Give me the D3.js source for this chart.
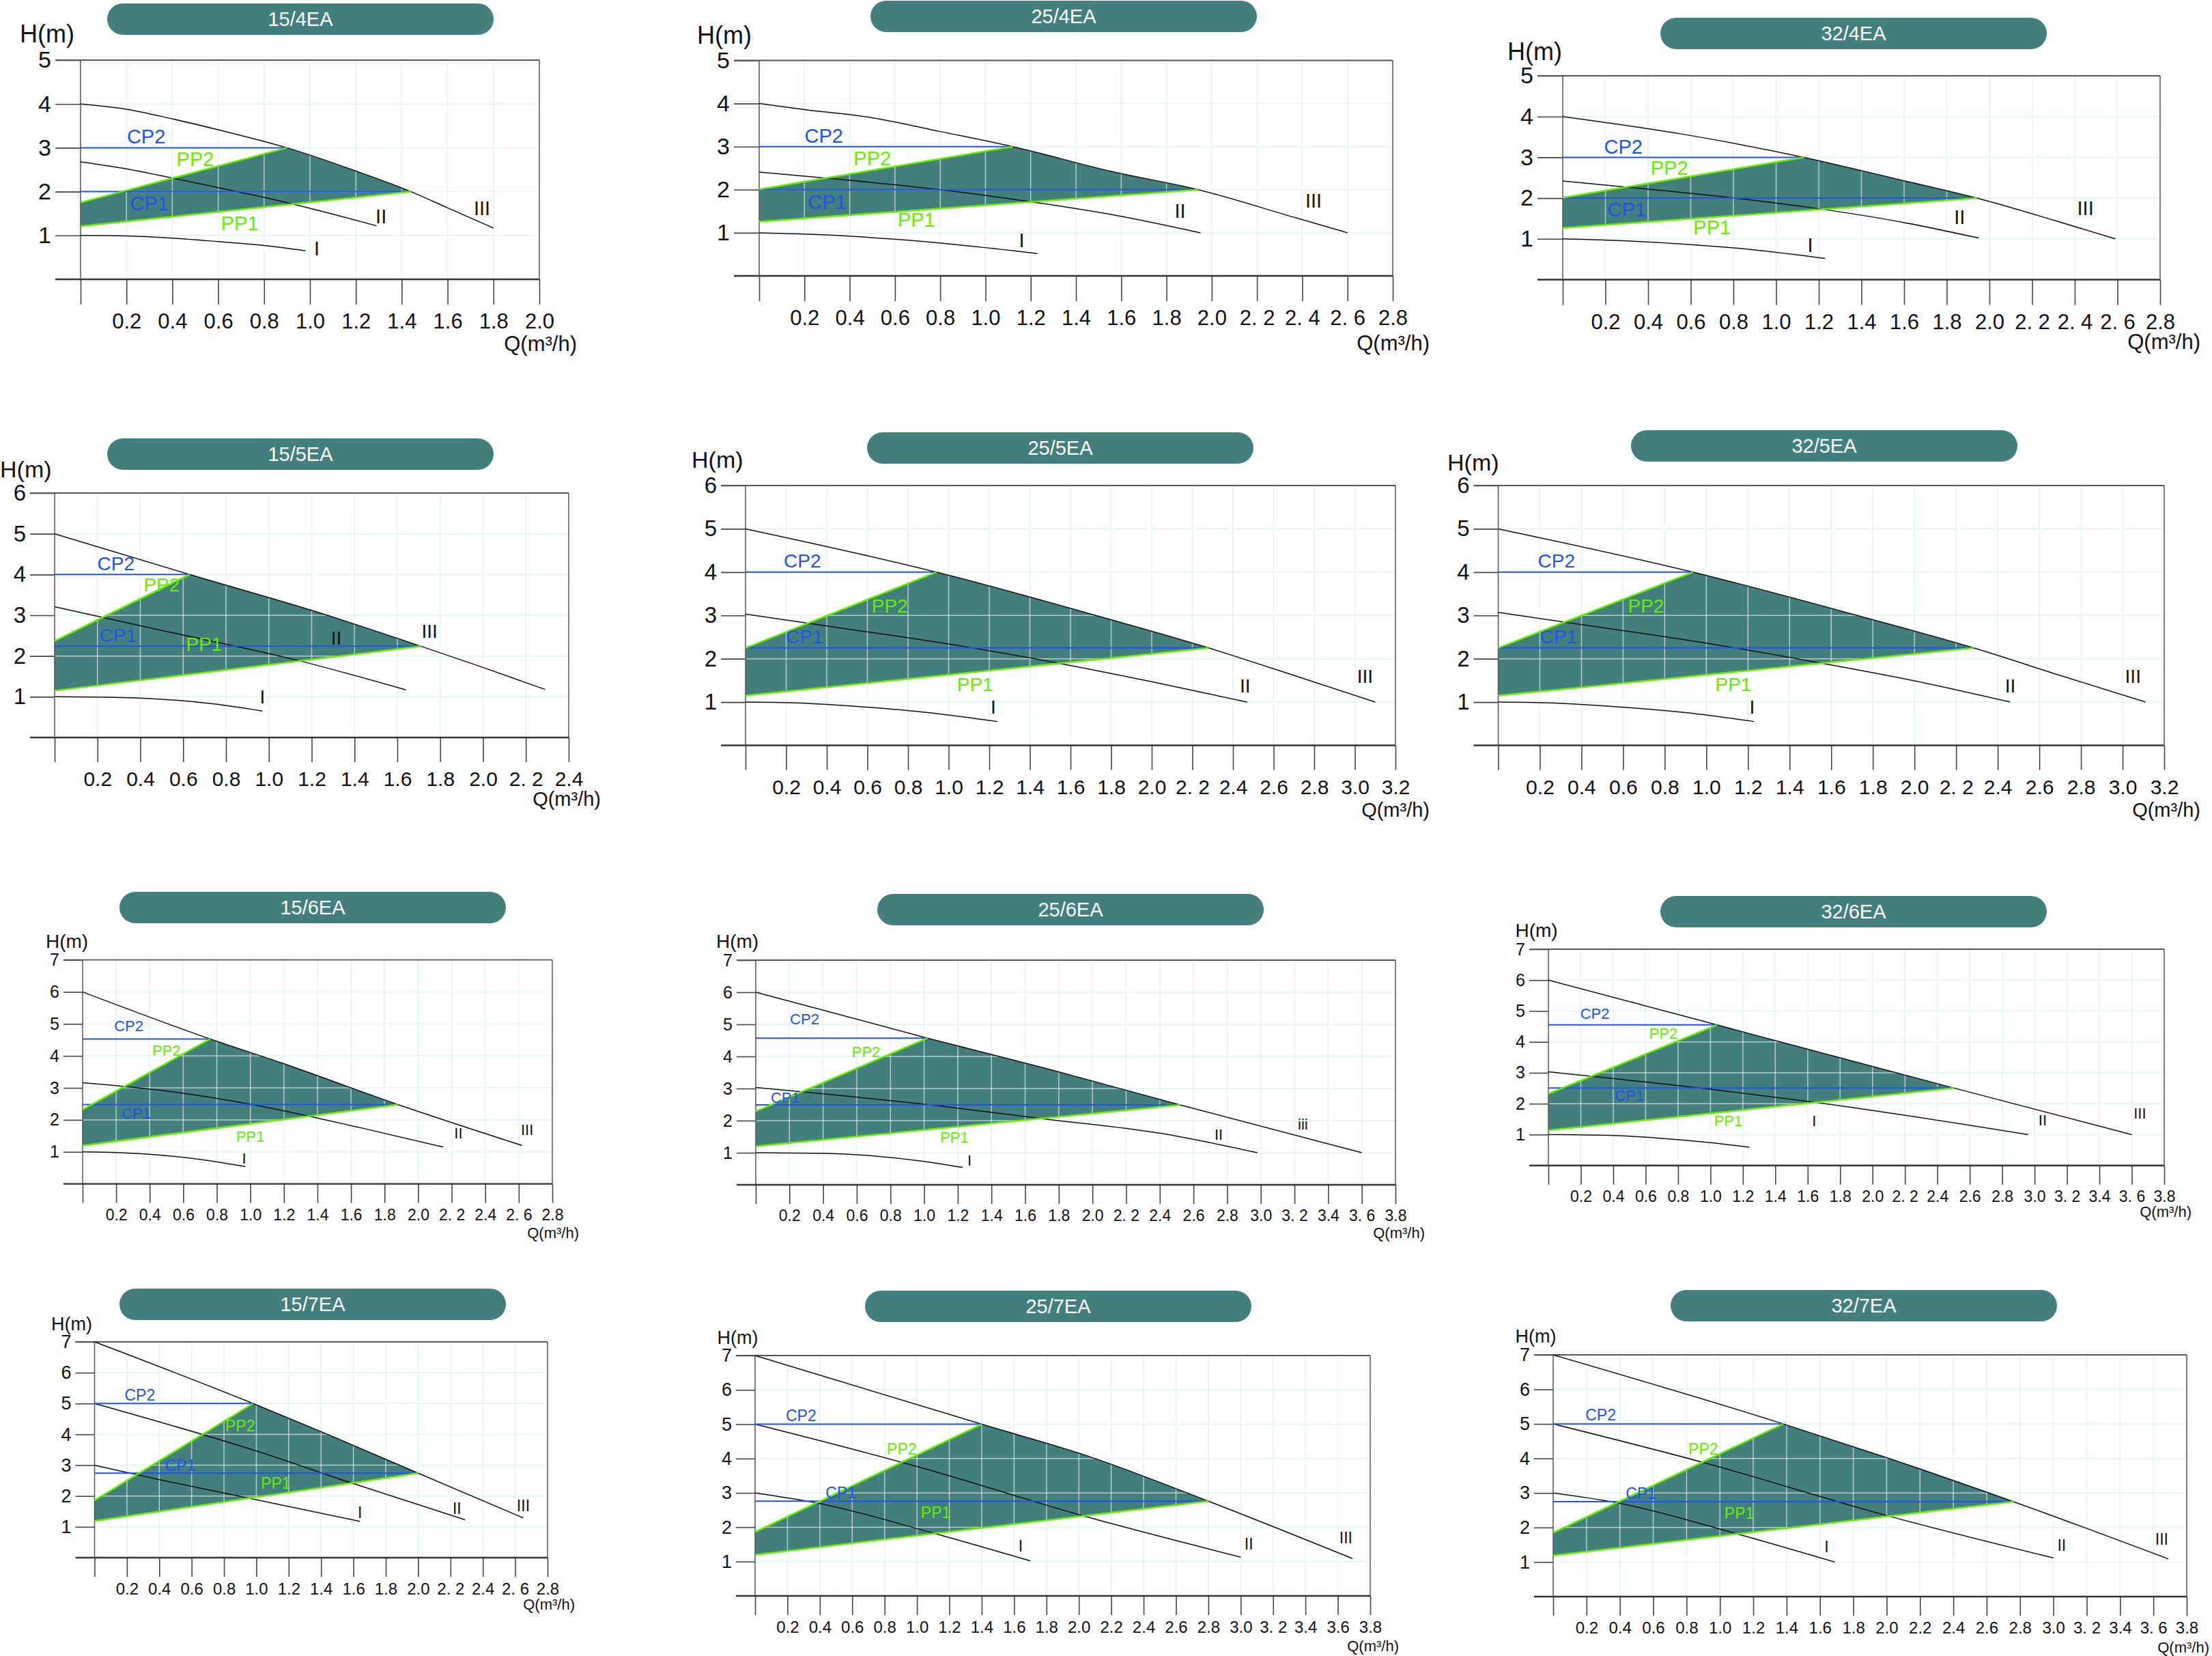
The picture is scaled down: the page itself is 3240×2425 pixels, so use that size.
<!DOCTYPE html>
<html><head><meta charset="utf-8">
<script src="https://cdn.jsdelivr.net/npm/d3@7"></script>
<style>
body{margin:0;background:#fff}
svg{display:block}
text{font-family:"Liberation Sans",Arial,sans-serif}
</style>
</head><body>
<svg id="c" width="3240" height="2425"></svg>
<script>
// ---------------- DATA ----------------
const models = ["15/4EA","25/4EA","32/4EA","15/5EA","25/5EA","32/5EA","15/6EA","25/6EA","32/6EA","15/7EA","25/7EA","32/7EA"];
const xMax = [2.0,2.8,2.8,2.4,3.2,3.2,2.8,3.8,3.8,2.8,3.8,3.8];
const yMax = [5,5,5,6,6,6,7,7,7,7,7,7];

const curveIII = [
  [[0,4.0],[0.2,3.88],[0.4,3.66],[0.6,3.41],[0.9,3.0],[1.2,2.47],[1.44,2.0],[1.6,1.63],[1.8,1.17]],
  [[0,4.0],[0.2,3.86],[0.5,3.67],[0.8,3.35],[1.12,3.0],[1.56,2.42],[1.94,2.0],[2.37,1.35],[2.6,1.0]],
  [[0,4.0],[0.56,3.57],[1.13,3.0],[1.58,2.45],[1.94,2.0],[2.3,1.46],[2.59,1.0]],
  [[0,5.0],[0.63,4.0],[1.2,3.12],[1.71,2.24],[2.0,1.72],[2.29,1.18]],
  [[0,5.0],[0.94,4.0],[1.74,2.98],[2.28,2.25],[2.71,1.6],[3.1,1.0]],
  [[0,5.0],[0.935,4.0],[1.74,2.98],[2.284,2.25],[2.71,1.6],[3.11,1.0]],
  [[0,6.0],[0.76,4.53],[1.18,3.79],[1.88,2.48],[2.62,1.2]],
  [[0,6.0],[1.02,4.57],[1.7,3.66],[2.52,2.49],[3.6,1.0]],
  [[0,6.0],[1.04,4.55],[1.61,3.75],[2.5,2.51],[3.6,1.0]],
  [[0,7.0],[0.98,5.0],[1.4,4.09],[2.0,2.74],[2.65,1.29]],
  [[0,7.0],[1.4,5.0],[2.07,4.05],[2.8,2.76],[3.69,1.09]],
  [[0,7.0],[1.38,5.0],[1.99,4.04],[2.76,2.75],[3.69,1.09]]
];
const curveII = [
  [[0,2.68],[0.2,2.52],[0.4,2.31],[0.6,2.09],[0.8,1.87],[1.0,1.62],[1.29,1.22]],
  [[0,2.41],[0.4,2.22],[0.8,2.0],[1.2,1.72],[1.57,1.41],[1.95,1.0]],
  [[0,2.42],[0.4,2.22],[0.79,2.01],[1.2,1.74],[1.6,1.4],[1.95,1.02]],
  [[0,3.21],[0.49,2.64],[1.13,1.9],[1.64,1.17]],
  [[0,3.03],[0.5,2.69],[1.0,2.34],[1.55,1.89],[2.0,1.47],[2.47,1.0]],
  [[0,3.07],[0.5,2.72],[1.0,2.36],[1.55,1.9],[2.0,1.49],[2.46,1.0]],
  [[0,3.16],[0.5,2.9],[1.0,2.49],[1.66,1.75],[2.15,1.15]],
  [[0,3.03],[1.0,2.51],[1.7,2.06],[2.41,1.6],[2.98,1.0]],
  [[0,3.03],[1.0,2.47],[1.64,2.05],[2.96,1.0]],
  [[0,5.0],[1.0,3.46],[1.59,2.42],[2.29,1.23]],
  [[0,5.0],[1.03,3.73],[2.02,2.34],[3.0,1.13]],
  [[0,5.0],[0.91,3.87],[1.99,2.36],[3.0,1.12]]
];
const curveI = [
  [[0,1.0],[0.2,0.99],[0.4,0.94],[0.6,0.86],[0.8,0.77],[0.98,0.65]],
  [[0,1.0],[0.3,0.95],[0.6,0.85],[0.9,0.71],[1.23,0.52]],
  [[0,1.0],[0.3,0.95],[0.6,0.86],[0.9,0.73],[1.23,0.52]],
  [[0,1.0],[0.25,0.99],[0.5,0.94],[0.75,0.82],[0.97,0.65]],
  [[0,1.0],[0.3,0.97],[0.63,0.87],[0.95,0.73],[1.24,0.55]],
  [[0,1.0],[0.3,0.97],[0.63,0.87],[0.95,0.73],[1.23,0.55]],
  [[0,1.0],[0.2,0.98],[0.46,0.9],[0.75,0.73],[0.97,0.54]],
  [[0,1.0],[0.42,0.98],[0.7,0.9],[1.0,0.73],[1.23,0.54]],
  [[0,1.0],[0.4,0.97],[0.67,0.89],[1.0,0.74],[1.24,0.59]],
  [[0,3.0],[0.41,2.52],[0.9,1.99],[1.64,1.18]],
  [[0,3.0],[0.38,2.71],[1.1,1.83],[1.7,1.02]],
  [[0,3.0],[0.4,2.7],[1.1,1.82],[1.69,1.0]]
];
// constant-pressure lines: end point on curve III [Q, H]
const cp2End = [[0.9,3.0],[1.12,3.0],[1.13,3.0],[0.63,4.0],[0.94,4.0],[0.935,4.0],[0.76,4.53],[1.02,4.57],[1.04,4.55],[0.98,5.0],[1.4,5.0],[1.38,5.0]];
const cp1End = [[1.44,2.0],[1.94,2.0],[1.94,2.0],[1.71,2.24],[2.28,2.25],[2.284,2.25],[1.88,2.48],[2.52,2.49],[2.5,2.51],[2.0,2.74],[2.8,2.76],[2.76,2.75]];
// proportional-pressure lines: head at Q = 0
const pp2Start = [1.75,2.01,2.01,2.37,2.25,2.25,2.32,2.29,2.32,1.86,1.86,1.85];
const pp1Start = [1.21,1.26,1.27,1.15,1.15,1.15,1.2,1.2,1.14,1.19,1.2,1.19];

const xTickLabels = [
  ["0.2","0.4","0.6","0.8","1.0","1.2","1.4","1.6","1.8","2.0"],
  ["0.2","0.4","0.6","0.8","1.0","1.2","1.4","1.6","1.8","2.0","2. 2","2. 4","2. 6","2.8"],
  ["0.2","0.4","0.6","0.8","1.0","1.2","1.4","1.6","1.8","2.0","2. 2","2. 4","2. 6","2.8"],
  ["0.2","0.4","0.6","0.8","1.0","1.2","1.4","1.6","1.8","2.0","2. 2","2.4"],
  ["0.2","0.4","0.6","0.8","1.0","1.2","1.4","1.6","1.8","2.0","2. 2","2.4","2.6","2.8","3.0","3.2"],
  ["0.2","0.4","0.6","0.8","1.0","1.2","1.4","1.6","1.8","2.0","2. 2","2.4","2.6","2.8","3.0","3.2"],
  ["0.2","0.4","0.6","0.8","1.0","1.2","1.4","1.6","1.8","2.0","2. 2","2.4","2. 6","2.8"],
  ["0.2","0.4","0.6","0.8","1.0","1.2","1.4","1.6","1.8","2.0","2. 2","2.4","2.6","2.8","3.0","3. 2","3.4","3. 6","3.8"],
  ["0.2","0.4","0.6","0.8","1.0","1.2","1.4","1.6","1.8","2.0","2. 2","2.4","2.6","2.8","3.0","3. 2","3.4","3. 6","3.8"],
  ["0.2","0.4","0.6","0.8","1.0","1.2","1.4","1.6","1.8","2.0","2. 2","2.4","2. 6","2.8"],
  ["0.2","0.4","0.6","0.8","1.0","1.2","1.4","1.6","1.8","2.0","2.2","2.4","2.6","2.8","3.0","3. 2","3.4","3.6","3.8"],
  ["0.2","0.4","0.6","0.8","1.0","1.2","1.4","1.6","1.8","2.0","2.2","2.4","2.6","2.8","3.0","3. 2","3.4","3. 6","3.8"]
];
const numerals = [
  ["I","II","III"],["I","II","III"],["I","II","III"],
  ["I","II","III"],["I","II","III"],["I","II","III"],
  ["I","II","III"],["I","II","iii"],["I","II","III"],
  ["I","II","III"],["I","II","III"],["I","II","III"]
];
// annotation anchor points in data units [Q, H]
const atCP2 = [[0.286,3.26],[0.286,3.26],[0.284,3.27],[0.286,4.27],[0.28,4.26],[0.28,4.26],[0.275,4.95],[0.29,5.17],[0.287,4.91],[0.28,5.27],[0.284,5.26],[0.285,5.26]];
const atPP2 = [[0.5,2.75],[0.5,2.73],[0.5,2.75],[0.5,3.75],[0.71,3.23],[0.71,3.23],[0.5,4.18],[0.655,4.15],[0.71,4.28],[0.9,4.29],[0.906,4.28],[0.9,4.27]];
const atCP1 = [[0.3,1.73],[0.3,1.72],[0.3,1.72],[0.296,2.51],[0.29,2.51],[0.29,2.51],[0.32,2.2],[0.176,2.73],[0.5,2.26],[0.53,2.99],[0.53,3.0],[0.527,2.99]];
const atPP1 = [[0.694,1.29],[0.695,1.3],[0.7,1.29],[0.698,2.29],[1.13,1.41],[1.13,1.41],[1.0,1.49],[1.18,1.49],[1.11,1.45],[1.12,2.41],[1.116,2.43],[1.116,2.41]];
const atI   = [[1.03,0.71],[1.16,0.835],[1.16,0.86],[0.97,1.0],[1.22,0.89],[1.22,0.89],[0.963,0.81],[1.27,0.755],[1.64,1.46],[1.64,1.47],[1.64,1.46],[1.64,1.45]];
const atII  = [[1.31,1.44],[1.86,1.52],[1.86,1.54],[1.315,2.45],[2.46,1.38],[2.46,1.38],[2.24,1.6],[2.75,1.58],[3.05,1.48],[2.24,1.61],[3.05,1.51],[3.05,1.49]];
const atIII = [[1.75,1.63],[2.45,1.75],[2.45,1.75],[1.75,2.62],[3.05,1.6],[3.05,1.6],[2.65,1.69],[3.25,1.89],[3.65,1.69],[2.65,1.7],[3.65,1.69],[3.65,1.67]];

// ---------------- LAYOUT (pixels) ----------------
const layout = [
  {l:118,r:790,t:88,b:409,px:157,py:5,hx:29,hy:62,qr:845,qy:514},
  {l:1112,r:2040,t:88.5,b:404,px:1275,py:1,hx:1021,hy:64,qr:2094,qy:513},
  {l:2289,r:3164,t:111,b:409.5,px:2432,py:26,hx:2208,hy:88,qr:3223,qy:511},
  {l:80,r:833,t:722,b:1080,px:157,py:642,hx:0,hy:699,qr:880,qy:1180},
  {l:1092,r:2044,t:711,b:1091.5,px:1270,py:633,hx:1013,hy:685,qr:2094,qy:1196},
  {l:2194.5,r:3170,t:711,b:1091.5,px:2389,py:630,hx:2120,hy:689,qr:3223,qy:1196},
  {l:121,r:809,t:1405.7,b:1733.6,px:175,py:1306,hx:67,hy:1388,qr:848,qy:1813},
  {l:1107,r:2044,t:1406,b:1735,px:1285,py:1309,hx:1049,hy:1387.5,qr:2087,qy:1813},
  {l:2268,r:3170,t:1390,b:1706.7,px:2432,py:1312,hx:2219.5,hy:1372,qr:3210,qy:1782},
  {l:138.5,r:802,t:1965,b:2281,px:175,py:1887,hx:75,hy:1948,qr:842,qy:2357},
  {l:1106,r:2007,t:1985,b:2337,px:1267,py:1890,hx:1050.5,hy:1968,qr:2049,qy:2418},
  {l:2275,r:3203,t:1984,b:2338,px:2447,py:1889,hx:2219.5,hy:1966,qr:3236,qy:2420}
];
const rowStyle = [
  {tick:37,pad:13,tickFs:31,yFs:34,labFs:29,hFs:36,qFs:31,titleFs:29},
  {tick:36,pad:14,tickFs:30,yFs:33,labFs:28,hFs:34,qFs:29,titleFs:29},
  {tick:28,pad:9,tickFs:23,yFs:25,labFs:22,hFs:28,qFs:22,titleFs:29},
  {tick:28,pad:9,tickFs:24,yFs:27,labFs:23,hFs:27,qFs:22,titleFs:29}
];
const TEAL = "#437f7c", BLUE = "#2152f0", GREEN = "#66ee00", FAINT = "#e2f5f3";

// ---------------- DRAW ----------------
const svg = d3.select("#c");
const defs = svg.append("defs");

models.forEach((m, i) => {
  const L = layout[i], S = rowStyle[Math.floor(i / 3)];
  const x = d3.scaleLinear().domain([0, xMax[i]]).range([L.l, L.r]);
  const y = d3.scaleLinear().domain([0, yMax[i]]).range([L.b, L.t]);
  const g = svg.append("g");
  const line = d3.line().x(d => x(d[0])).y(d => y(d[1])).curve(d3.curveMonotoneX);

  // title pill
  g.append("rect").attr("x", L.px).attr("y", L.py).attr("width", 566).attr("height", 46)
    .attr("rx", 23).attr("fill", TEAL);
  g.append("text").attr("x", L.px + 283).attr("y", L.py + 23).attr("dy", "0.36em")
    .attr("text-anchor", "middle").attr("fill", "#fff").attr("font-size", S.titleFs).text(m);

  const nX = Math.round(xMax[i] / 0.2);
  const xt = d3.range(0, nX + 1).map(k => k * 0.2);
  const yt = d3.range(1, yMax[i] + 1);

  // faint grid
  const grid = (sel, color, op) => {
    sel.selectAll(null).data(xt.slice(1, -1)).join("line")
      .attr("x1", d => x(d)).attr("x2", d => x(d)).attr("y1", y(0)).attr("y2", y(yMax[i]))
      .attr("stroke", color).attr("stroke-opacity", op).attr("stroke-width", 1.5);
    sel.selectAll(null).data(yt.slice(0, -1)).join("line")
      .attr("x1", x(0)).attr("x2", x(xMax[i])).attr("y1", d => y(d)).attr("y2", d => y(d))
      .attr("stroke", color).attr("stroke-opacity", op).attr("stroke-width", 1.5);
  };
  grid(g.append("g"), FAINT, 1);

  // operating area
  const top = curveIII[i].filter(p => p[0] > cp2End[i][0] && p[0] < cp1End[i][0]);
  const boundary = [cp2End[i], ...top, cp1End[i]];
  const areaD = `M${x(0)},${y(pp1Start[i])}L${x(0)},${y(pp2Start[i])}L` + line(boundary).slice(1) + "Z";
  defs.append("clipPath").attr("id", "clip" + i).append("path").attr("d", areaD);
  g.append("path").attr("d", areaD).attr("fill", TEAL);
  grid(g.append("g").attr("clip-path", `url(#clip${i})`), "#ffffff", 0.6);

  // axes
  const xAxis = d3.axisBottom(x).tickValues(xt).tickSize(S.tick).tickPadding(S.pad)
    .tickFormat((d, k) => k === 0 ? "" : xTickLabels[i][k - 1]);
  const gx = g.append("g").attr("transform", `translate(0,${L.b})`).call(xAxis);
  const yAxis = d3.axisLeft(y).tickValues(yt).tickSize(S.tick).tickPadding(6).tickFormat(d3.format("d"));
  const gy = g.append("g").attr("transform", `translate(${L.l},0)`).call(yAxis);
  [gx, gy].forEach(a => {
    a.select(".domain").remove();
    a.attr("font-family", null).attr("font-size", null);
    a.selectAll(".tick line").attr("stroke", "#444").attr("stroke-width", 1.6);
    a.selectAll(".tick text").attr("fill", "#111");
  });
  gx.selectAll(".tick text").attr("font-size", S.tickFs);
  gy.selectAll(".tick text").attr("font-size", S.yFs);

  // frame
  g.append("line").attr("x1", L.l - S.tick).attr("x2", L.r).attr("y1", y(yMax[i])).attr("y2", y(yMax[i]))
    .attr("stroke", "#555").attr("stroke-width", 1.8);
  g.append("line").attr("x1", L.l - S.tick).attr("x2", L.r).attr("y1", y(0)).attr("y2", y(0))
    .attr("stroke", "#333").attr("stroke-width", 2.4);
  g.append("line").attr("x1", x(0)).attr("x2", x(0)).attr("y1", y(yMax[i])).attr("y2", y(0))
    .attr("stroke", "#555").attr("stroke-width", 1.5);
  g.append("line").attr("x1", x(xMax[i])).attr("x2", x(xMax[i])).attr("y1", y(yMax[i])).attr("y2", y(0))
    .attr("stroke", "#555").attr("stroke-width", 1.5);

  // pump curves
  [curveI[i], curveII[i], curveIII[i]].forEach(c => {
    g.append("path").attr("d", line(c)).attr("fill", "none").attr("stroke", "#111").attr("stroke-width", 1.5);
  });
  // CP lines
  [cp2End[i], cp1End[i]].forEach(p => {
    g.append("line").attr("x1", x(0)).attr("x2", x(p[0])).attr("y1", y(p[1])).attr("y2", y(p[1]))
      .attr("stroke", BLUE).attr("stroke-width", 2);
  });
  // PP lines
  [[pp2Start[i], cp2End[i]], [pp1Start[i], cp1End[i]]].forEach(([h0, p]) => {
    g.append("line").attr("x1", x(0)).attr("y1", y(h0)).attr("x2", x(p[0])).attr("y2", y(p[1]))
      .attr("stroke", GREEN).attr("stroke-width", 2.5);
  });

  // labels
  const lab = (pos, txt, color) => g.append("text").attr("x", x(pos[0])).attr("y", y(pos[1]))
    .attr("dy", "0.36em").attr("text-anchor", "middle").attr("fill", color)
    .attr("font-size", S.labFs).text(txt);
  lab(atCP2[i], "CP2", BLUE);
  lab(atPP2[i], "PP2", GREEN);
  lab(atCP1[i], "CP1", BLUE);
  lab(atPP1[i], "PP1", GREEN);
  lab(atI[i], numerals[i][0], "#111");
  lab(atII[i], numerals[i][1], "#111");
  lab(atIII[i], numerals[i][2], "#111");

  // axis titles
  g.append("text").attr("x", L.hx).attr("y", L.hy).attr("font-size", S.hFs).attr("fill", "#111").text("H(m)");
  g.append("text").attr("x", L.qr).attr("y", L.qy).attr("text-anchor", "end")
    .attr("font-size", S.qFs).attr("fill", "#111").text("Q(m³/h)");
});
</script>
</body></html>
